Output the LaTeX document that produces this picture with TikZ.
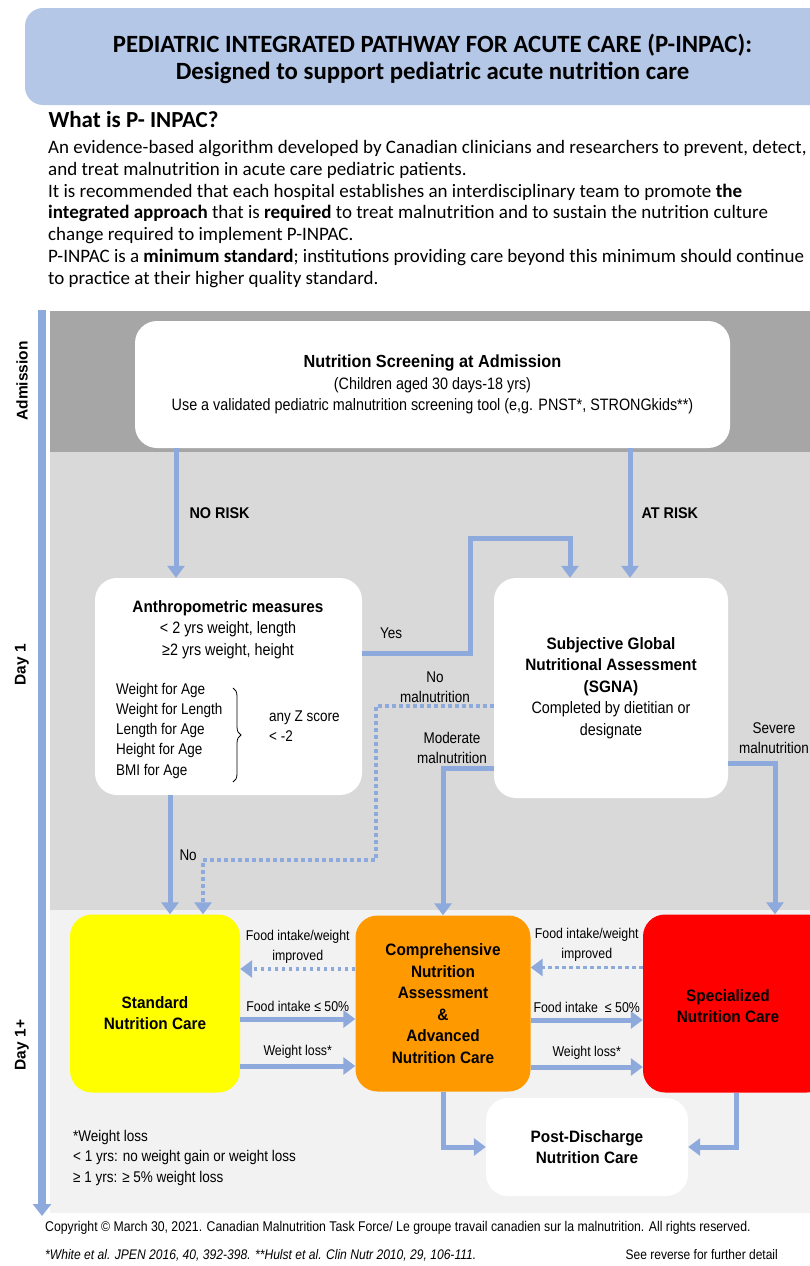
\documentclass[tikz,border=0pt]{standalone}
\usepackage{fontspec}
\setmainfont{Carlito}
\newfontfamily\narrowsf[UprightFeatures={FakeStretch=0.87},ItalicFeatures={FakeStretch=0.87},BoldFeatures={FakeStretch=0.93}]{Liberation Sans}
\newfontfamily\sidesf{Liberation Sans}
\usetikzlibrary{arrows.meta,decorations.pathreplacing}
\definecolor{titleblue}{RGB}{180,199,231}
\definecolor{flowblue}{RGB}{142,169,219}
\definecolor{admgray}{RGB}{166,166,166}
\definecolor{daygray}{RGB}{217,217,217}
\definecolor{latergray}{RGB}{242,242,242}
\definecolor{careyellow}{RGB}{255,255,0}
\definecolor{careorange}{RGB}{255,153,0}
\definecolor{carered}{RGB}{255,0,0}
\begin{document}
\begin{tikzpicture}
	[x=1pt,y=-1pt,
	box/.style={rounded corners=22pt,fill=white,align=center,inner sep=0pt,font=\narrowsf\fontsize{16.5}{21.5}\selectfont},
	care/.style={box,font=\narrowsf\bfseries\fontsize{16.5}{21.6}\selectfont,minimum width=170,minimum height=178},
	lbl/.style={align=center,inner sep=1pt,font=\narrowsf\fontsize{14.2}{20}\selectfont},
	tag/.style={lbl,font=\narrowsf\fontsize{15.5}{20}\selectfont},
	side/.style={rotate=90,font=\sidesf\bfseries\fontsize{15.5}{18}\selectfont},
	link/.style={draw=flowblue,line width=5pt,-{Triangle[width=17pt,length=12pt]}},
	dots/.style={link,line width=3.5pt,dash pattern=on 3.5pt off 3.5pt}]
	\useasboundingbox (0,0) rectangle (810,1266);
	\fill[titleblue,rounded corners=18pt] (25,8) rectangle (840,105);
	\node[align=center,font=\bfseries\fontsize{24.8}{27}\selectfont,name=title]at(432.5,58.5){PEDIATRIC INTEGRATED PATHWAY FOR ACUTE CARE (P-INPAC):\\Designed to support pediatric acute nutrition care};
	\node[anchor=west,font=\bfseries\fontsize{23}{24}\selectfont,name=whatis]at(45,120){What is P- INPAC?};
	\node[anchor=west,align=left,inner sep=0pt,font=\fontsize{19}{21.8}\selectfont,name=about]at(48,214){An evidence-based algorithm developed by Canadian clinicians and researchers to prevent, detect,\\
		and treat malnutrition in acute care pediatric patients.\\
		It is recommended that each hospital establishes an interdisciplinary team to promote \textbf{the}\\
		\textbf{integrated approach} that is \textbf{required} to treat malnutrition and to sustain the nutrition culture\\
		change required to implement P-INPAC.\\
		P-INPAC is a \textbf{minimum standard}; institutions providing care beyond this minimum should continue\\
		to practice at their higher quality standard.};
	\fill[admgray] (50,311) rectangle (810,452);
	\fill[daygray] (50,452) rectangle (810,910);
	\fill[latergray] (50,910) rectangle (810,1213);
	\draw[flowblue,line width=8pt,-{Triangle[width=18pt,length=12pt]}] (42,310) -- (42,1216);
	\node[side,name=admission]at(22,381){Admission};
	\node[side,name=day1]at(22,665){Day 1};
	\node[side,name=day1plus]at(22,1045){Day 1+};
	\node[box,name=screen,minimum width=595,minimum height=127]at(432.5,384.5){{\bfseries\fontsize{17.5}{21.5}\selectfont Nutrition Screening at Admission}\\(Children aged 30 days-18 yrs)\\Use a validated pediatric malnutrition screening tool (e,g. PNST*, STRONGkids**)};
	\node[box,name=anthro,minimum width=267,minimum height=217]at(228.5,686.5){};
	\node[lbl,font=\narrowsf\fontsize{16.5}{21.5}\selectfont,name=anthrotext]at(228,629.5){\textbf{Anthropometric measures}\\< 2 yrs weight, length\\≥2 yrs weight, height};
	\node[lbl,anchor=west,align=left,font=\narrowsf\fontsize{15.5}{20.25}\selectfont,name=indices]at(115,730.5){Weight for Age\\Weight for Length\\Length for Age\\Height for Age\\BMI for Age};
	\draw[line width=0.8pt,decorate,decoration={brace,amplitude=8pt}] (233,688) -- (233,782);
	\node[lbl,anchor=west,align=left,font=\narrowsf\fontsize{15.5}{20.25}\selectfont,name=zscore]at(268,726){any Z score\\< -2};
	\node[box,name=sgna,minimum width=234,minimum height=220]at(611,688){\textbf{Subjective Global}\\\textbf{Nutritional Assessment}\\\textbf{(SGNA)}\\Completed by dietitian or\\designate};
	\node[care,fill=careyellow,name=standard]at(155,1003.5){};
	\node[lbl,font=\narrowsf\bfseries\fontsize{16.5}{21}\selectfont,name=standardtext]at([yshift=-9.5pt]standard.center){Standard\\Nutrition Care};
	\node[care,fill=careorange,minimum width=175,minimum height=176,name=compre]at(443,1003.5){Comprehensive\\Nutrition\\Assessment\\\&\\Advanced\\Nutrition Care};
	\node[care,fill=carered,minimum width=186,name=special]at(736,1003.5){};
	\node[lbl,font=\narrowsf\bfseries\fontsize{16.5}{21.5}\selectfont,name=specialtext]at(728,1006){Specialized\\Nutrition Care};
	\node[box,font=\narrowsf\bfseries\fontsize{16.5}{21.5}\selectfont,minimum width=202,minimum height=98,name=postdc]at(587,1147){Post-Discharge\\Nutrition Care};
	\coordinate (norisk) at (176,0);
	\coordinate (atrisk) at (630,0);
	\coordinate (nox) at (170,0);
	\coordinate (yesbend) at (470,538);
	\coordinate (nomalbend) at (376,860);
	\draw[link] (screen.south -| norisk) -- (anthro.north -| norisk) node[tag,midway,right=10pt]{\textbf{NO RISK}};
	\draw[link] (screen.south -| atrisk) -- (sgna.north -| atrisk) node[tag,midway,right=8pt]{\textbf{AT RISK}};
	\draw[link] ([yshift=33.5pt]anthro.east) -| (yesbend) -| ([xshift=-41pt]sgna.north);
	\node[tag,name=yes]at(391,633){Yes};
	\draw[dots] ([yshift=-18pt]sgna.west) -| (nomalbend) -| ([xshift=48pt]standard.north);
	\node[tag,name=nomal]at(435,687){No\\malnutrition};
	\draw[link] ([yshift=-80pt]sgna.west) -| (compre.north);
	\node[tag,name=moderate]at(452,748){Moderate\\malnutrition};
	\draw[link] ([yshift=-75pt]sgna.east) -| ([xshift=39pt]special.north);
	\node[tag,name=severe]at(774,738){Severe\\malnutrition};
	\draw[link] (anthro.south -| nox) -- (standard.north -| nox) node[tag,midway,right=6pt]{No};
	\draw[dots] ([yshift=34.5pt]compre.west) -- ([yshift=34.5pt]standard.east) node[lbl,midway,above=3pt]{Food intake/weight\\improved};
	\draw[link] ([yshift=-15.5pt]standard.east) -- ([yshift=-15.5pt]compre.west) node[lbl,midway,above=4pt]{Food intake ≤ 50\%};
	\draw[link] ([yshift=-62.5pt]standard.east) -- ([yshift=-62.5pt]compre.west) node[lbl,midway,above=4pt]{Weight loss*};
	\draw[dots] ([yshift=36pt]special.west) -- ([yshift=36pt]compre.east) node[lbl,midway,above=3pt]{Food intake/weight\\improved};
	\draw[link] ([yshift=-16.5pt]compre.east) -- ([yshift=-16.5pt]special.west) node[lbl,midway,above=4pt]{Food intake \ ≤ 50\%};
	\draw[link] ([yshift=-63.5pt]compre.east) -- ([yshift=-63.5pt]special.west) node[lbl,midway,above=4pt]{Weight loss*};
	\draw[link] (compre.south) |- (postdc.west);
	\draw[link] (special.south) |- (postdc.east);
	\node[lbl,anchor=west,align=left,font=\narrowsf\fontsize{15.5}{20.5}\selectfont,name=wlnote]at(72,1157.5){*Weight loss\\< 1 yrs: no weight gain or weight loss\\≥ 1 yrs: ≥ 5\% weight loss};
	\node[anchor=west,inner sep=0pt,font=\narrowsf\fontsize{14.1}{16}\selectfont,name=copyright]at(45,1228){Copyright © March 30, 2021. Canadian Malnutrition Task Force/ Le groupe travail canadien sur la malnutrition. All rights reserved.};
	\node[anchor=west,inner sep=0pt,font=\narrowsf\itshape\fontsize{13.9}{15}\selectfont,name=refs]at(45,1255){*White et al. JPEN 2016, 40, 392-398. **Hulst et al. Clin Nutr 2010, 29, 106-111.};
	\node[anchor=east,inner sep=0pt,font=\narrowsf\fontsize{13.8}{15}\selectfont,name=reverse]at(778,1255){See reverse for further detail};
\end{tikzpicture}
\end{document}
